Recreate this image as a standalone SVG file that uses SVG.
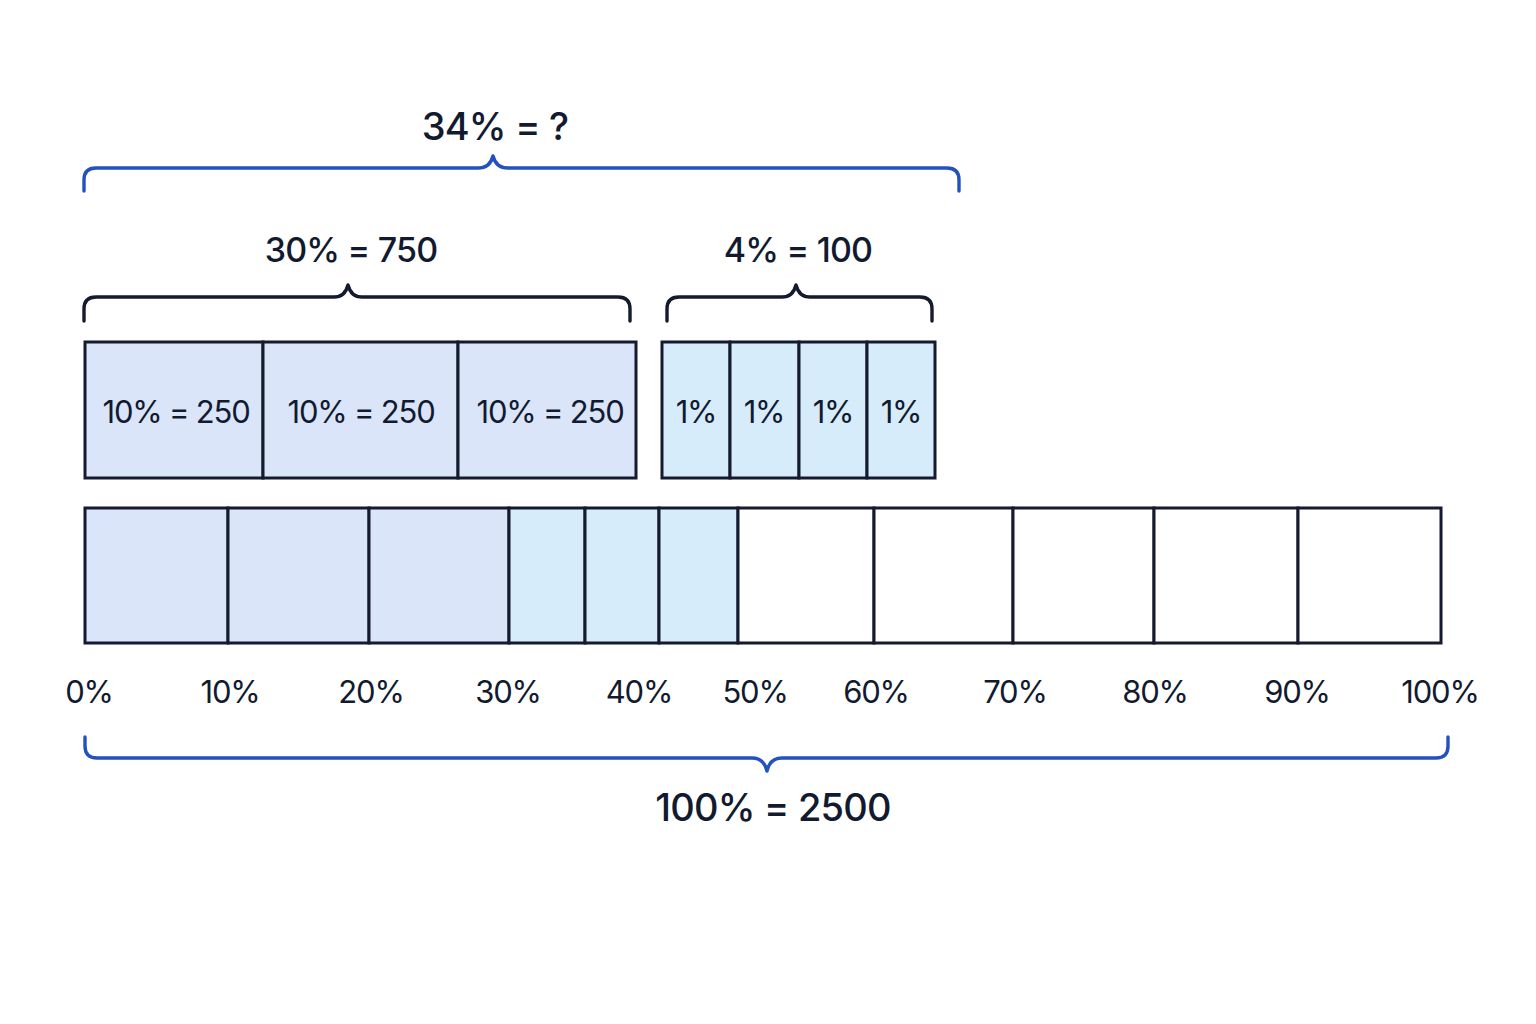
<svg xmlns="http://www.w3.org/2000/svg" width="1536" height="1024" viewBox="0 0 1536 1024">
<style>
text{font-family:Inter,"Noto Sans","Liberation Sans",sans-serif;fill:#121a30;text-anchor:middle}
.big{font-size:38px;font-weight:500;letter-spacing:-0.8px}
.mid{font-size:34px;font-weight:500;letter-spacing:-0.8px}
.lab{font-size:31px;letter-spacing:-1.2px}
.cell{stroke:#141b2e;stroke-width:3}
.a{fill:#dae5f9}
.b{fill:#d6ecfa}
.w{fill:#ffffff}
.br{fill:none;stroke-width:3.4;stroke-linecap:round;stroke-linejoin:round}
.blue{stroke:#2152c0}
.dark{stroke:#141b2e}
</style>
<rect width="1536" height="1024" fill="#ffffff"/>
<g id="labels-top">
<text class="big" x="495" y="140">34% = ?</text>
<text class="mid" x="351" y="262">30% = 750</text>
<text class="mid" x="798" y="262">4% = 100</text>
</g>
<g id="brackets">
<path class="br blue" d="M84 191 V180 Q84 168 96 168 H478 Q490 168 493 156 Q496 168 508 168 H947 Q959 168 959 180 V191"/>
<path class="br dark" d="M84 321 V309 Q84 297 96 297 H334 Q345 297 348 285 Q351 297 362 297 H618 Q630 297 630 309 V321"/>
<path class="br dark" d="M667 321 V309 Q667 297 679 297 H782 Q793 297 796 285 Q799 297 810 297 H920 Q932 297 932 309 V321"/>
<path class="br blue" d="M85 737 V746 Q85 758 97 758 H752 Q764 758 767 771 Q770 758 782 758 H1436 Q1448 758 1448 746 V737"/>
</g>
<g id="tens">
<rect class="cell a" x="85" y="342" width="178" height="136"/>
<rect class="cell a" x="263" y="342" width="195" height="136"/>
<rect class="cell a" x="458" y="342" width="178" height="136"/>
<text class="lab" x="176" y="423">10% = 250</text>
<text class="lab" x="361" y="423">10% = 250</text>
<text class="lab" x="550" y="423">10% = 250</text>
</g>
<g id="ones">
<rect class="cell b" x="662" y="342" width="68" height="136"/>
<rect class="cell b" x="730" y="342" width="69" height="136"/>
<rect class="cell b" x="799" y="342" width="68" height="136"/>
<rect class="cell b" x="867" y="342" width="68" height="136"/>
<text class="lab" x="696" y="423">1%</text>
<text class="lab" x="764" y="423">1%</text>
<text class="lab" x="833" y="423">1%</text>
<text class="lab" x="901" y="423">1%</text>
</g>
<g id="bar">
<rect class="cell a" x="85" y="508" width="143" height="135"/>
<rect class="cell a" x="228" y="508" width="141" height="135"/>
<rect class="cell a" x="369" y="508" width="140" height="135"/>
<rect class="cell b" x="509" y="508" width="76" height="135"/>
<rect class="cell b" x="585" y="508" width="74" height="135"/>
<rect class="cell b" x="659" y="508" width="79" height="135"/>
<rect class="cell w" x="738" y="508" width="136" height="135"/>
<rect class="cell w" x="874" y="508" width="139" height="135"/>
<rect class="cell w" x="1013" y="508" width="141" height="135"/>
<rect class="cell w" x="1154" y="508" width="144" height="135"/>
<rect class="cell w" x="1298" y="508" width="143" height="135"/>
</g>
<g id="axis">
<text class="lab" x="89" y="703">0%</text>
<text class="lab" x="230" y="703">10%</text>
<text class="lab" x="371" y="703">20%</text>
<text class="lab" x="508" y="703">30%</text>
<text class="lab" x="639" y="703">40%</text>
<text class="lab" x="755" y="703">50%</text>
<text class="lab" x="876" y="703">60%</text>
<text class="lab" x="1015" y="703">70%</text>
<text class="lab" x="1155" y="703">80%</text>
<text class="lab" x="1297" y="703">90%</text>
<text class="lab" x="1440" y="703">100%</text>
</g>
<g id="total">
<text class="big" x="773" y="821">100% = 2500</text>
</g>
</svg>
